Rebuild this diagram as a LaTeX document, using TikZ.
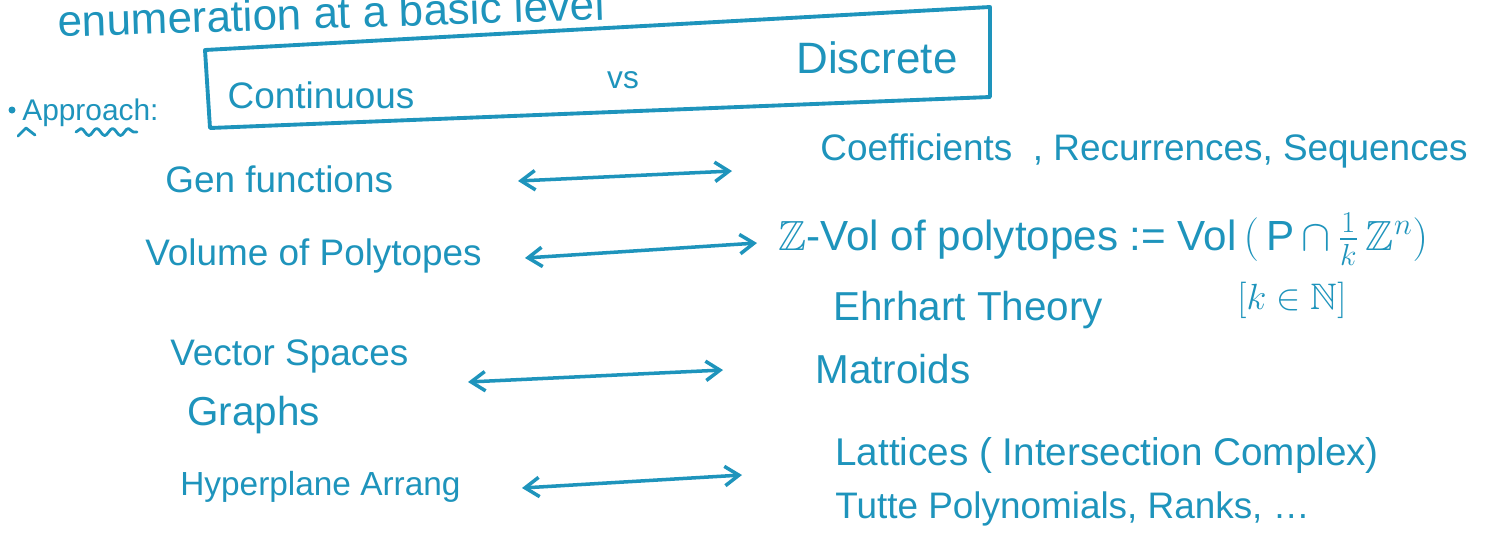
\documentclass[tikz,border=0pt]{standalone}
\usepackage{fontspec}
\usepackage{amssymb}
\setmainfont{Liberation Sans}
\usetikzlibrary{arrows.meta,decorations.pathmorphing}
\definecolor{ink}{RGB}{30,148,188}
\newcommand\inksize[1]{\fontsize{#1}{#1}\selectfont}

\begin{document}
\begin{tikzpicture}[x=0.02cm, y=-0.02cm, line cap=round, line join=round,
  word/.style={text=ink, inner sep=0pt, anchor=base west, font=\inksize{21}},
  pair/.style={ink, line width=2pt, {Straight Barb[length=8pt,width=11pt]}-{Straight Barb[length=8pt,width=11pt]}}]
\fill [white] (0,0) rectangle (1494,539);
\useasboundingbox (0,0) rectangle (1494,539);
%
\node [word, font=\inksize{25}, rotate=1.8] (top) at (58,37) {enumeration at a basic level};
%
\fill [ink] (12,110) circle (3.5);
\node [word, font=\inksize{17}] (appr) at (22,120) {Approach:};
\draw [ink, line width=1.6pt] (18,136) -- (26,128) -- (35,135);
\draw [ink, line width=1.6pt, decorate, decoration={snake, amplitude=2pt, segment length=9pt}] (76,132) -- (137,132);
%
\coordinate (bTL) at (205,50);
\coordinate (bTR) at (990,7);
\coordinate (bBR) at (990,97);
\coordinate (bBL) at (210,128);
\draw [ink, line width=2.2pt] (bTL) -- (bTR) -- (bBR) -- (bBL) -- cycle;
\node [word, anchor=center] (cont) at (321,95) {Continuous};
\node [word, anchor=center, font=\inksize{18}] (vs) at (623,80) {vs};
\node [word, anchor=center, font=\inksize{25}] (disc) at (877,58) {Discrete};
%
\node [word] (gen) at (165,192) {Gen functions};
\node [word] (vol) at (145,265) {Volume of Polytopes};
\node [word] (vec) at (170,365) {Vector Spaces};
\node [word, font=\inksize{23}] (grph) at (187,425) {Graphs};
\node [word, font=\inksize{19}] (hyp) at (180,495) {Hyperplane Arrang};
%
\node [word] (coef) at (820,160) {Coefficients\ \ , Recurrences, Sequences};
\node [word, font=\inksize{24}] (zvol) at (778,250) {$\mathbb{Z}$-Vol of polytopes := Vol\,$\Bigl($\,P$\,\cap\,\frac{1}{k}\,\mathbb{Z}^n\Bigr)$};
\node [word, anchor=center, font=\inksize{21}] (kin) at (1292,300) {$[k\in\mathbb{N}]$};
\node [word, font=\inksize{23}] (ehr) at (833,320) {Ehrhart Theory};
\node [word, font=\inksize{23}] (mat) at (815,383) {Matroids};
\node [word, font=\inksize{22}] (lat) at (835,465) {Lattices ( Intersection Complex)};
\node [word] (tut) at (835,518) {Tutte Polynomials, Ranks, \dots};
%
\coordinate (a1) at (518,181);  \coordinate (b1) at (732,171);
\coordinate (a2) at (525,258);  \coordinate (b2) at (757,243);
\coordinate (a3) at (468,382);  \coordinate (b3) at (723,370);
\coordinate (a4) at (522,488);  \coordinate (b4) at (742,475);
\draw [pair] (a1) -- (b1);
\draw [pair] (a2) -- (b2);
\draw [pair] (a3) -- (b3);
\draw [pair] (a4) -- (b4);
%%%%%%%%%%%%%%%%%%%%%%%%%%%%%%%
\end{tikzpicture}
\end{document}
